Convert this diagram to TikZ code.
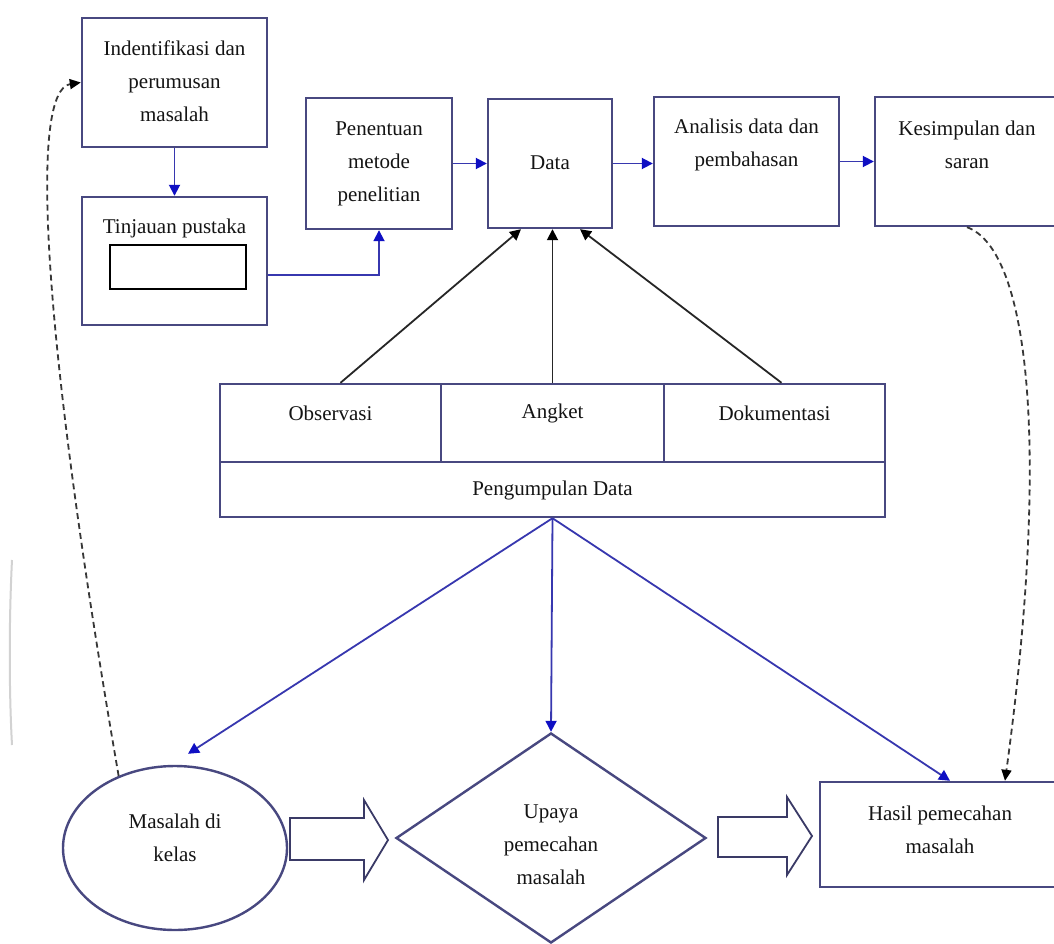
\documentclass[tikz,border=0pt]{standalone}
\usepackage{fontspec}
\setmainfont{Liberation Serif}
\usetikzlibrary{arrows.meta,shapes.geometric,calc}
\definecolor{boxcol}{RGB}{72,72,128}
\definecolor{linkblue}{RGB}{55,55,175}
\definecolor{headblue}{RGB}{15,15,195}
\definecolor{txtcol}{RGB}{20,20,20}
\definecolor{dashcol}{RGB}{55,55,55}
\tikzset{
  box/.style={draw=boxcol, line width=2.4pt, fill=white, inner sep=0pt, rectangle},
  lbl/.style={font=\fontsize{21}{33}\selectfont, align=center, text=txtcol, inner sep=0pt},
  bluearr/.style={draw=linkblue, line width=1.8pt, -{Triangle[length=11pt,width=11pt,color=headblue]}},
  blackarr/.style={draw=black!85, line width=1.8pt, -{Triangle[length=11pt,width=11pt,color=black]}},
  dasharr/.style={draw=dashcol, line width=1.8pt, dash pattern=on 6pt off 4pt, -{Triangle[length=11pt,width=10pt,color=black]}},
  hollow/.style={draw=boxcol!80!black, line width=1.8pt, fill=white, line join=miter}
}
\begin{document}
\begin{tikzpicture}[x=1pt,y=-1pt]
\useasboundingbox (0,0) rectangle (1054,944);
\fill[white] (0,0) rectangle (1054,944);
\draw[gray!35, line width=2pt] (12,560) .. controls (9,620) and (9,690) .. (12,745);

% top row
\node[box, minimum width=185pt, minimum height=129pt] (b1) at (174.5,82.5) {};
\node[lbl] (t1) at (174.5,81) {Indentifikasi dan\\perumusan\\masalah};
\node[box, minimum width=185pt, minimum height=128pt] (b2) at (174.5,261) {};
\node[lbl] (t2) at (174.5,228) {Tinjauan pustaka};
\node[draw=black, line width=1.6pt, fill=white, inner sep=0pt, minimum width=136pt, minimum height=44pt] (b2in) at (178,267) {};
\node[box, minimum width=146pt, minimum height=131pt] (b3) at (379,163.5) {};
\node[lbl] (t3) at (379,164) {Penentuan\\metode\\penelitian};
\node[box, minimum width=124pt, minimum height=129pt] (data) at (550,163.5) {};
\node[lbl] (td) at (550,163) {Data};
\node[box, minimum width=185pt, minimum height=129pt] (b5) at (746.5,161.5) {};
\node[lbl] (t5) at (746.5,145) {Analisis data dan\\pembahasan};
\node[box, minimum width=184pt, minimum height=129pt] (b6) at (967,161.5) {};
\node[lbl] (t6) at (967,145) {Kesimpulan dan\\saran};

% data collection table
\node[box, minimum width=221pt, minimum height=78pt] (obs) at (330.5,423) {};
\node[box, minimum width=223pt, minimum height=78pt] (ang) at (552.5,423) {};
\node[box, minimum width=221pt, minimum height=78pt] (dok) at (774.5,423) {};
\node[box, minimum width=665pt, minimum height=55pt] (pd) at (552.5,489.5) {};
\node[lbl] (tobs) at (330.5,413) {Observasi};
\node[lbl] (tang) at (552.5,413) {Angket};
\node[lbl] (tdok) at (774.5,413) {Dokumentasi};
\node[lbl] (tpd) at (552.5,490) {Pengumpulan Data};

% bottom row
\node[draw=boxcol, line width=2.4pt, fill=white, ellipse, inner sep=0pt, minimum width=224pt, minimum height=164pt] (ell) at (175,848) {};
\node[lbl] (tel) at (175,838) {Masalah di\\kelas};
\node[draw=boxcol, line width=2.4pt, fill=white, diamond, inner sep=0pt, minimum width=310pt, minimum height=210pt] (dia) at (551,838) {};
\node[lbl] (tdia) at (551,845) {Upaya\\pemecahan\\masalah};
\node[box, minimum width=240pt, minimum height=105pt] (h) at (940,834.5) {};
\node[lbl] (th) at (940,830) {Hasil pemecahan\\masalah};

% hollow block arrows
\draw[hollow] (290,818) -- (364,818) -- (364,800) -- (388,840) -- (364,880) -- (364,860) -- (290,860) -- cycle;
\draw[hollow] (718,817) -- (787,817) -- (787,797) -- (812,836) -- (787,875) -- (787,857) -- (718,857) -- cycle;

% connectors
\draw[bluearr] (b1.south) -- (b2.north);
\draw[bluearr] ([yshift=-14pt]b2.east) -| (b3.south);
\draw[bluearr] (b3.east) -- (b3.east -| data.west);
\draw[bluearr] (data.east) -- (data.east -| b5.west);
\draw[bluearr] (b5.east) -- (b5.east -| b6.west);
\draw[blackarr] ([xshift=10pt]obs.north) -- ([xshift=-29pt]data.south);
\draw[blackarr] (ang.north) -- (ang.north |- data.south);
\draw[blackarr] ([xshift=7pt]dok.north) -- ([xshift=30pt]data.south);
\draw[bluearr] (pd.south) -- ([shift={(13pt,11pt)}]ell.north);
\draw[bluearr] (pd.south) -- (dia.north);
\draw[bluearr] (pd.south) -- ([xshift=10pt]h.north);
\draw[dasharr] (ell.128) .. controls (40,320) and (30,90) .. (b1.west);
\draw[dasharr] (b6.south) .. controls (1030,250) and (1050,450) .. ([xshift=65pt]h.north);
\end{tikzpicture}
\end{document}
